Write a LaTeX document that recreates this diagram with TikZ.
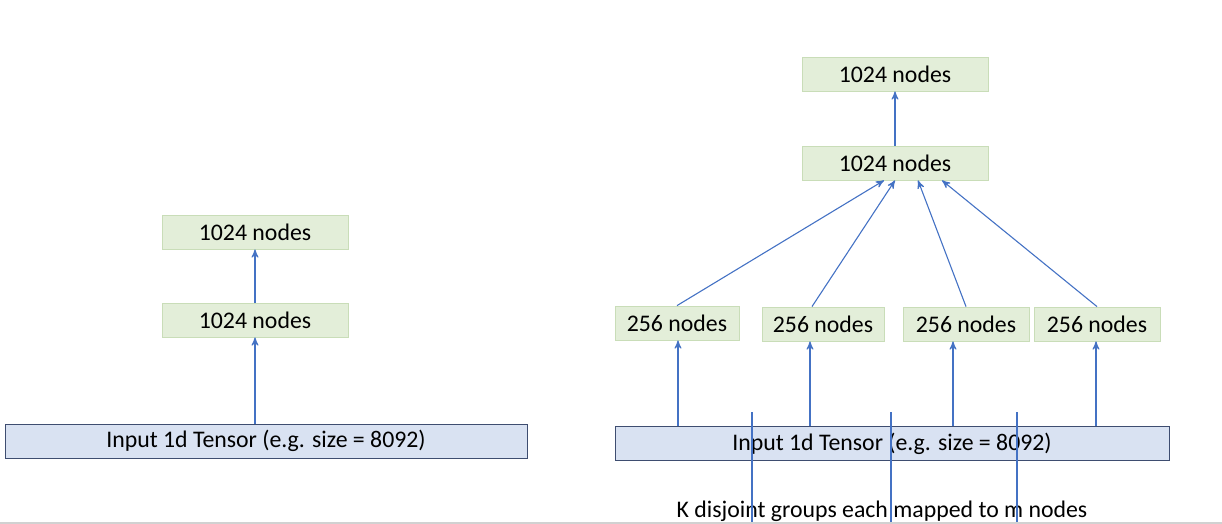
\documentclass[tikz,border=0pt]{standalone}
\usepackage{fontspec}
\setmainfont{Carlito}
\usepackage{tikz}
\usetikzlibrary{calc}
\usetikzlibrary{positioning}
\usetikzlibrary{arrows}
\definecolor{gruenfill}{HTML}{E3EED9}
\definecolor{gruenrand}{HTML}{C9DDB8}
\definecolor{blaufill}{HTML}{D9E2F2}
\definecolor{blaurand}{HTML}{3E4D70}
\definecolor{pfeil}{HTML}{4472C4}
\tikzset{
	>=stealth',
	knoten/.style={
		rectangle,
		fill=gruenfill,
		draw=gruenrand, thin,
		minimum width=93pt,
		minimum height=17pt,
		inner sep=0pt,
		font=\fontsize{11.9}{14}\selectfont},
	gruppe/.style={knoten, minimum width=62pt},
	tensor/.style={
		rectangle,
		fill=blaufill,
		draw=blaurand, thin,
		minimum height=17pt,
		inner sep=0pt,
		font=\fontsize{11.9}{14}\selectfont},
	line/.style={draw=pfeil, line width=0.55pt},
	pfeillinie/.style={line, ->},
}

\begin{document}
\begin{tikzpicture}
			[x=0.5pt, y=-0.5pt]
			\useasboundingbox (0,0) rectangle (1222,524);
			% links
			\node[knoten] (einsL) at (255,232) {1024 nodes};
			\node[knoten] (zweiL) at (255,320) {1024 nodes};
			\node[tensor, minimum width=261pt] (inL) at (266,441) {Input 1d Tensor (e.g. size = 8092)};
			\draw[pfeillinie] (inL.north -| zweiL.south) -- (zweiL.south);
			\draw[pfeillinie] (zweiL.north) -- (einsL.south);

			% rechts
			\node[knoten] (einsR) at (895,74) {1024 nodes};
			\node[knoten] (zweiR) at (895,163) {1024 nodes};
			\node[gruppe] (eins) at (677,323) {256 nodes};
			\node[gruppe, minimum width=61pt] (zwei) at (823,324) {256 nodes};
			\node[gruppe, minimum width=63pt] (drei) at (966,324) {256 nodes};
			\node[gruppe, minimum width=63pt] (vier) at (1097,324) {256 nodes};
			\node[tensor, minimum width=277pt] (inR) at (892,443.5) {Input 1d Tensor (e.g. size = 8092)};
			\node (text) at (882,511) {\fontsize{11.9}{14}\selectfont K disjoint groups each mapped to m nodes};

			\draw[pfeillinie] (zweiR.north) -- (einsR.south);
			\draw[pfeillinie] (eins.north) -- ([xshift=-5.5pt]zweiR.south);
			\draw[pfeillinie] ([xshift=-5.5pt]zwei.north) -- (zweiR.south);
			\draw[pfeillinie] (drei.north) -- ([xshift=11.5pt]zweiR.south);
			\draw[pfeillinie] (vier.north) -- ([xshift=23.5pt]zweiR.south);

			\draw[pfeillinie] ($(inR.north -| eins.south)+(1,0)$) -- ($(eins.south)+(1,0)$);
			\draw[pfeillinie] ($(inR.north -| zwei.south)+(-13,0)$) -- ($(zwei.south)+(-13,0)$);
			\draw[pfeillinie] ($(inR.north -| drei.south)+(-13,0)$) -- ($(drei.south)+(-13,0)$);
			\draw[pfeillinie] ($(inR.north -| vier.south)+(-1,0)$) -- ($(vier.south)+(-1,0)$);

			\foreach \x in {752,891,1017}
				\draw[line] (\x,412) -- (\x,523);
			\draw[black!18, line width=1pt] (0,522.5) -- (1222,522.5);
			\end{tikzpicture}
\end{document}
